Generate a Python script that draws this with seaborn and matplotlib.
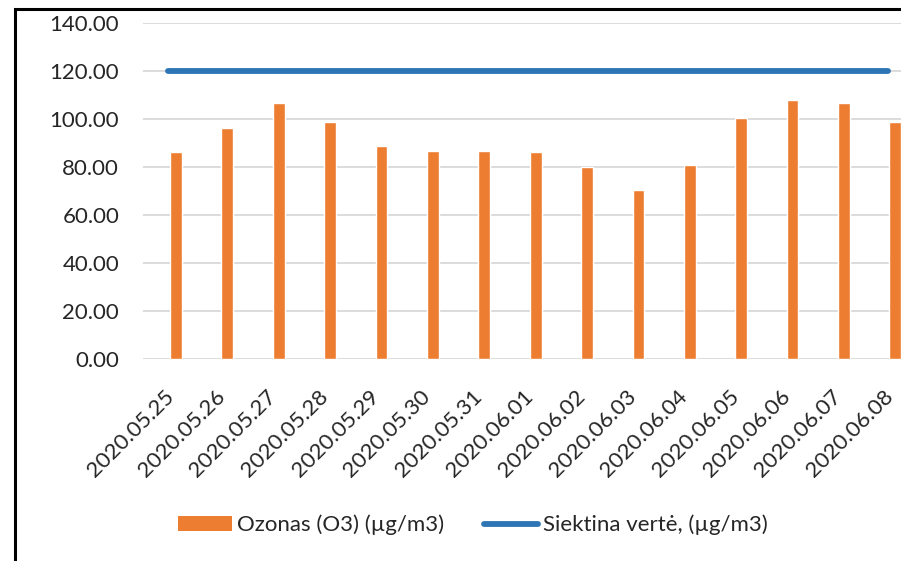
import matplotlib
matplotlib.use('Agg')
import matplotlib.pyplot as plt
import seaborn as sns
import numpy as np
import pandas as pd
from matplotlib.lines import Line2D
from matplotlib.patches import Patch, Rectangle

# data
dates = ['2020.05.25', '2020.05.26', '2020.05.27', '2020.05.28', '2020.05.29',
         '2020.05.30', '2020.05.31', '2020.06.01', '2020.06.02', '2020.06.03',
         '2020.06.04', '2020.06.05', '2020.06.06', '2020.06.07', '2020.06.08']
ozone = [86.3, 96.3, 106.8, 98.8, 88.8, 86.7, 86.7, 86.2, 79.8, 70.3,
         80.8, 100.4, 107.9, 106.7, 98.8]
target = [120] * len(dates)

bar_label = 'Ozonas (O3) (µg/m3)'
line_label = 'Siektina vertė, (µg/m3)'

orange = '#ED7D31'
blue = '#2E75B6'

sns.set_style('white')
plt.rcParams['font.family'] = ['Lato', 'DejaVu Sans']

fig = plt.figure(figsize=(9.01, 5.61), dpi=100)
# plot area runs past the right edge, like the cropped original
ax = fig.add_axes([0.1585, 0.3601, 0.8554, 0.599])

df = pd.DataFrame({'date': dates, 'ozone': ozone, 'target': target})
df['pos'] = np.arange(len(dates))

# bars sit a bit right of the category centre (Excel cluster offset)
sns.barplot(x=df['pos'] + 0.146, y=df['ozone'], native_scale=True, color=orange,
            width=0.23, saturation=1, ax=ax, zorder=2)
sns.lineplot(x=df['pos'], y=df['target'], color=blue, linewidth=4.2,
             solid_capstyle='round', ax=ax, zorder=3)

ax.set_xlim(-0.5, len(dates) - 0.5)
ax.set_ylim(0, 140)
ax.set_yticks(np.arange(0, 141, 20))
ax.set_yticklabels([f'{v:.2f}' for v in np.arange(0, 141, 20)], fontsize=16)
ax.set_xticks(df['pos'] + 0.04)
ax.set_xticklabels(dates, rotation=45, ha='right', va='center',
                   rotation_mode='anchor', fontsize=16)
ax.tick_params(axis='y', length=0, pad=17)
ax.tick_params(axis='x', length=0, pad=25)
ax.yaxis.grid(True, color='#D9D9D9', linewidth=1.3)
ax.set_axisbelow(True)
for s in ax.spines.values():
    s.set_visible(False)
ax.set_xlabel('')
ax.set_ylabel('')

# outer chart frame (left and top edges visible)
fig.patches.append(Rectangle((15 / 901, -0.1), 1.2, 1 - 9 / 561 + 0.1,
                             transform=fig.transFigure, fill=False,
                             edgecolor='black', linewidth=2.2))

handles = [Patch(facecolor=orange, edgecolor='none', label=bar_label),
           Line2D([0], [0], color=blue, linewidth=4.2, solid_capstyle='round', label=line_label)]
fig.legend(handles=handles, loc='center', bbox_to_anchor=(473 / 901, 1 - 525 / 561),
           ncol=2, frameon=False, fontsize=16, handlelength=2.4, handleheight=0.6,
           handletextpad=0.25, columnspacing=1.8)

fig.savefig('out.png', dpi=100)
